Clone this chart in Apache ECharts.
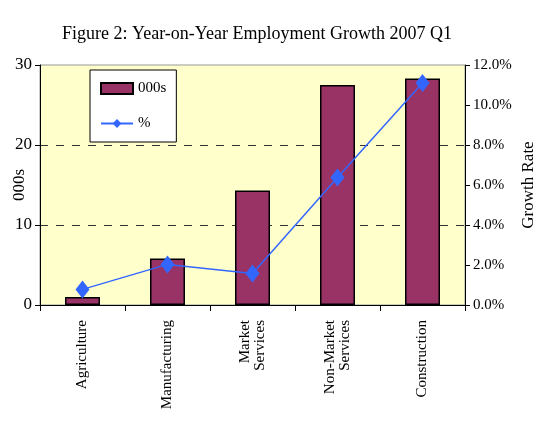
<!DOCTYPE html>
<html><head><meta charset="utf-8">
<script src="https://cdn.jsdelivr.net/npm/echarts@6/dist/echarts.min.js"></script>
<style>html,body{margin:0;padding:0;background:#fff}#c{width:540px;height:423px}</style>
</head><body><div id="c"></div>
<script>
var categories = ['Agriculture', 'Manufacturing', 'Market\nServices', 'Non-Market\nServices', 'Construction'];
var employment000s = [1.0, 5.8, 14.3, 27.5, 28.3];
var growthRatePct = [0.78, 2.03, 1.58, 6.37, 11.1];
var leftTicks = {min: 0, max: 30, interval: 10};
var rightTicks = {min: 0, max: 12, interval: 2};

var FONT = 'Liberation Serif';
var chart = echarts.init(document.getElementById('c'));
chart.setOption({
  animation: false,
  title: {
    text: 'Figure 2: Year-on-Year Employment Growth 2007 Q1',
    left: 252, top: 20, textAlign: 'center',
    textStyle: {fontFamily: FONT, fontSize: 18, fontWeight: 'normal', color: '#000'}
  },
  legend: {
    orient: 'vertical', left: 90, top: 70,
    backgroundColor: '#fff', borderColor: '#000', borderWidth: 1,
    padding: [11, 10, 11, 10], itemGap: 20, itemWidth: 32, itemHeight: 11,
    textStyle: {fontFamily: FONT, fontSize: 15, color: '#000'},
    data: [{name: '000s', icon: 'rect'}, {name: '%'}]
  },
  grid: {left: 40, right: 75, top: 65, bottom: 118, outerBoundsMode: 'none', containLabel: false,
    show: true, backgroundColor: '#FFFFCC', borderColor: '#999', borderWidth: 1},
  xAxis: {
    type: 'category', data: categories,
    axisLine: {lineStyle: {color: '#000', width: 1}},
    axisTick: {show: true, alignWithLabel: false, length: 6, lineStyle: {color: '#000'}},
    axisLabel: {rotate: 90, interval: 0, margin: 15, fontFamily: FONT, fontSize: 15, color: '#000', lineHeight: 15}
  },
  yAxis: [{
    type: 'value', min: leftTicks.min, max: leftTicks.max, interval: leftTicks.interval,
    name: '000s', nameLocation: 'middle', nameGap: 12, nameRotate: 90, nameMoveOverlap: false,
    nameTextStyle: {fontFamily: FONT, fontSize: 17, color: '#000'},
    axisLine: {show: true, lineStyle: {color: '#000'}},
    axisTick: {show: true, length: 5, lineStyle: {color: '#000'}},
    axisLabel: {fontFamily: FONT, fontSize: 17, color: '#000', margin: 8},
    splitLine: {show: true, showMaxLine: false, showMinLine: false, lineStyle: {color: '#333', type: [8, 8], width: 1}}
  }, {
    type: 'value', position: 'right', min: rightTicks.min, max: rightTicks.max, interval: rightTicks.interval,
    name: 'Growth Rate', nameLocation: 'middle', nameGap: 55, nameRotate: 90, nameMoveOverlap: false,
    nameTextStyle: {fontFamily: FONT, fontSize: 17, color: '#000'},
    axisLine: {show: true, lineStyle: {color: '#000'}},
    axisTick: {show: true, length: 5, lineStyle: {color: '#000'}},
    axisLabel: {fontFamily: FONT, fontSize: 15, color: '#000', margin: 8,
      formatter: function (v) { return v.toFixed(1) + '%'; }},
    splitLine: {show: false}
  }],
  series: [{
    name: '000s', type: 'bar', yAxisIndex: 0, data: employment000s, barWidth: 35,
    itemStyle: {color: '#993366', borderColor: '#000', borderWidth: 1.5}
  }, {
    name: '%', type: 'line', yAxisIndex: 1, data: growthRatePct,
    symbol: 'diamond', symbolSize: [14, 18],
    lineStyle: {color: '#3366FF', width: 1.5},
    itemStyle: {color: '#3366FF'}
  }]
});
</script></body></html>
